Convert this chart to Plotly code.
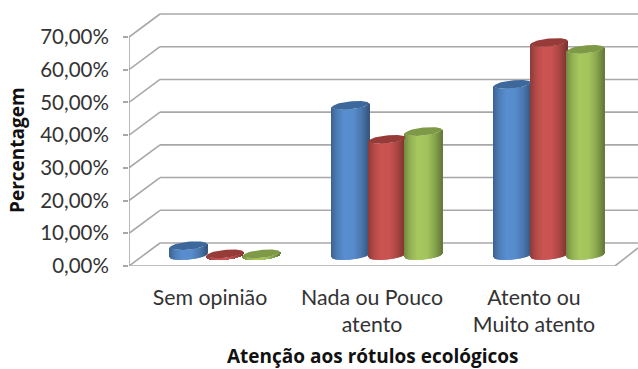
import numpy as np
import plotly.graph_objects as go

categories = ["Sem opinião", "Nada ou Pouco<br>atento", "Atento ou<br>Muito atento"]
serie_azul = [3.0, 45.9, 52.3]
serie_vermelha = [0.5, 35.5, 65.1]
serie_verde = [0.5, 37.9, 63.0]
y_ticks = [0, 10, 20, 30, 40, 50, 60, 70]
y_tick_labels = ["0,00%", "10,00%", "20,00%", "30,00%", "40,00%", "50,00%", "60,00%", "70,00%"]
x_title = "Atenção aos rótulos ecológicos"
y_title = "Percentagem"

W, H = 638, 369
L, B = 129, 103
PX_X = 162.0            # pixels per category
PX_Y = 229 / 70         # pixels per percentage point
FONT = "Lato"
GRID = "#a8a8a8"

def dx(px): return px / PX_X
def dy(px): return px / PX_Y

DEPTH_X, DEPTH_Y = dx(31), dy(23)
BAR_SHIFT_X, BAR_BASE = dx(15), dy(10.5)
A, E, TILT = dx(18.5), dy(4.0), dy(1.8)
STEP = dx(36.5)
x_min, x_max = -0.5, 2.5 + dx(23)
y_max = (H - B) / PX_Y

series = [
    ("Azul", serie_azul, (88, 142, 208), "#3c689c"),
    ("Vermelho", serie_vermelha, (204, 84, 81), "#973b39"),
    ("Verde", serie_verde, (166, 200, 94), "#7e9a46"),
]
profile_u = [-1, -0.7, -0.3, 0.2, 0.6, 1]
profile_v = [0.70, 0.88, 1.0, 0.98, 0.84, 0.62]

fig = go.Figure()
N = 38
for s, (name, vals, rgb, top) in enumerate(series):
    xs, hs, bs, cs = [], [], [], []
    for c, v in enumerate(vals):
        cx = c + BAR_SHIFT_X + (s - 1) * STEP
        for u in np.linspace(-1, 1, N):
            k = np.interp(u, profile_u, profile_v)
            xs.append(cx + u * A * 0.985)
            bs.append(BAR_BASE - E * np.sqrt(1 - min(u * u, 1)) + TILT * u)
            hs.append(v)
            cs.append(f"rgb({rgb[0]*k:.0f},{rgb[1]*k:.0f},{rgb[2]*k:.0f})")
    fig.add_trace(go.Bar(x=xs, y=hs, base=bs, width=2.4 * A / N, name=name,
                         marker=dict(color=cs, line=dict(width=0)), showlegend=False,
                         hoverinfo="skip"))
    ex, ey = [], []
    t = np.linspace(0, 2 * np.pi, 60)
    for c, v in enumerate(vals):
        cx = c + BAR_SHIFT_X + (s - 1) * STEP
        ex += list(cx + A * np.cos(t)) + [None]
        ey += list(BAR_BASE + v + E * np.sin(t) + TILT * np.cos(t)) + [None]
    fig.add_trace(go.Scatter(x=ex, y=ey, mode="lines", fill="toself", fillcolor=top,
                             line=dict(width=0, color=top), showlegend=False, hoverinfo="skip"))

def seg(x0, y0, x1, y1):
    return dict(type="line", xref="x", yref="y", x0=x0, y0=y0, x1=x1, y1=y1,
                layer="below", line=dict(color=GRID, width=1.6))

shapes = []
for v in y_ticks:
    shapes.append(seg(x_min, v, x_min + DEPTH_X, v + DEPTH_Y))
    shapes.append(seg(x_min + DEPTH_X, v + DEPTH_Y, x_max + 0.1, v + DEPTH_Y))
shapes.append(seg(x_min, 0, x_min, y_ticks[-1]))
shapes.append(seg(x_min, 0, 2.5, 0))
shapes.append(seg(2.5, 0, x_max, dy(18)))

annotations = [
    dict(text=f"<b>{x_title}</b>", xref="paper", yref="paper", x=(372.5 - L) / (W - L), y=-(355.5 - (H - B)) / (H - B),
         xanchor="center", yanchor="middle", showarrow=False, font=dict(family="Open Sans", size=19, color="#111111")),
    dict(text=f"<b>{y_title}</b>", xref="paper", yref="paper", x=-(129 - 17) / (W - L), y=(H - B - 150) / (H - B),
         xanchor="center", yanchor="middle", textangle=-90, showarrow=False,
         font=dict(family="Open Sans", size=19, color="#111111")),
]

fig.update_layout(
    width=W, height=H, autosize=False, margin=dict(l=L, r=0, t=0, b=B, pad=0),
    paper_bgcolor="white", plot_bgcolor="white", barmode="overlay", showlegend=False,
    shapes=shapes, annotations=annotations, font=dict(family=FONT, color="#333333"),
    xaxis=dict(range=[x_min, x_max], tickmode="array", tickvals=[0, 1, 2], ticktext=categories,
               showgrid=False, zeroline=False, showline=False, ticks="outside", ticklen=12,
               tickcolor="rgba(0,0,0,0)", tickfont=dict(family=FONT, size=21.3, color="#333333"),
               automargin=False),
    yaxis=dict(range=[0, y_max], tickmode="array", tickvals=y_ticks, ticktext=y_tick_labels,
               showgrid=False, zeroline=False, showline=False, ticks="outside", ticklen=5,
               tickcolor=GRID, tickwidth=1.6, tickfont=dict(family=FONT, size=20.5, color="#333333"),
               ticklabelstandoff=10, automargin=False),
)

fig.write_html("out.html", config=dict(displayModeBar=False),
               post_script="document.body.style.margin='0';document.body.style.overflow='hidden';")
